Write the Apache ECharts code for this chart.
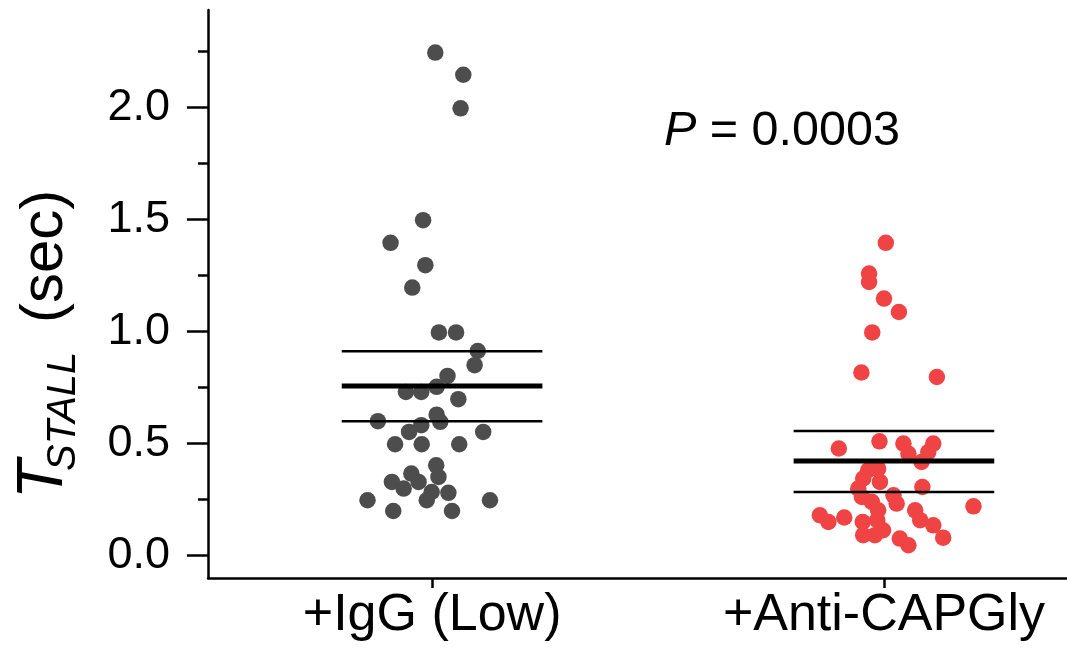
<!DOCTYPE html>
<html><head><meta charset="utf-8">
<script src="https://cdn.jsdelivr.net/npm/echarts@6/dist/echarts.min.js"></script>
<style>html,body{margin:0;padding:0;background:#fff}#c{width:1067px;height:656px}</style>
</head><body><div id="c"></div>
<script>
const categories = ['+IgG (Low)', '+Anti-CAPGly'];
const iggValues = [2.245, 2.146, 1.996, 1.497, 1.396, 1.296, 1.196, 0.996, 0.996, 0.913, 0.850, 0.802, 0.730, 0.730, 0.753, 0.698, 0.600, 0.629, 0.597, 0.582, 0.552, 0.552, 0.497, 0.497, 0.497, 0.403, 0.351, 0.366, 0.329, 0.299, 0.329, 0.284, 0.247, 0.280, 0.247, 0.247, 0.199, 0.199];
const iggJitter = [0.007, 0.069, 0.063, -0.020, -0.092, -0.015, -0.044, 0.015, 0.053, 0.101, 0.094, 0.034, -0.058, -0.024, 0.010, 0.058, -0.120, 0.010, 0.018, -0.024, -0.051, 0.113, -0.082, -0.023, 0.060, 0.009, 0.014, -0.046, -0.089, -0.063, -0.030, -0.001, -0.012, 0.036, -0.143, 0.128, -0.086, 0.044];
const capValues = [1.396, 1.259, 1.221, 1.147, 1.087, 0.996, 0.817, 0.797, 0.478, 0.510, 0.500, 0.500, 0.462, 0.455, 0.418, 0.381, 0.388, 0.344, 0.329, 0.299, 0.306, 0.262, 0.269, 0.232, 0.220, 0.202, 0.158, 0.202, 0.180, 0.150, 0.170, 0.150, 0.158, 0.113, 0.135, 0.091, 0.091, 0.076, 0.046, 0.080, 0.240];
const capJitter = [0.004, -0.033, -0.033, 0.000, 0.033, -0.026, -0.050, 0.117, -0.100, -0.010, 0.043, 0.109, 0.098, 0.054, 0.083, -0.035, -0.013, -0.046, -0.009, -0.057, 0.085, -0.049, 0.021, 0.028, 0.198, 0.069, 0.080, -0.013, -0.142, -0.123, -0.088, -0.047, -0.015, -0.002, 0.109, -0.046, -0.020, 0.035, 0.054, 0.131, -0.027];
const meanValues = [0.757, 0.422];
const upperValues = [0.912, 0.556];
const lowerValues = [0.600, 0.284];
const yMajorTicks = [0, 0.5, 1.0, 1.5, 2.0];
const yMinorTicks = [0.25, 0.75, 1.25, 1.75, 2.25];
const xTicks = [1, 2];
const pValueText = '0.0003';

const FONT = '"Liberation Sans", Arial, sans-serif';
const chart = echarts.init(document.getElementById('c'), null, {renderer: 'canvas'});

function pts(vals, jit, c) { return vals.map((v, i) => [c + jit[i], v]); }
const series = [
  {type: 'scatter', data: pts(iggValues, iggJitter, 1), symbol: 'circle', symbolSize: 16.5,
   itemStyle: {color: '#4d4d4d', opacity: 1}, z: 2, silent: true},
  {type: 'scatter', data: pts(capValues, capJitter, 2), symbol: 'circle', symbolSize: 16.5,
   itemStyle: {color: '#f04444', opacity: 1}, z: 2, silent: true}
];
const L = -0.2, R = 0.244;
[0, 1].forEach(i => {
  const c = i + 1;
  [[upperValues[i], 2.5], [meanValues[i], 5], [lowerValues[i], 2.5]].forEach(([y, w]) => {
    series.push({type: 'line', data: [[c + L, y], [c + R, y]], symbol: 'none', silent: true,
      lineStyle: {color: '#000', width: w}, z: 5, animation: false});
  });
});

const option = {
  animation: false,
  backgroundColor: '#fff',
  grid: {left: 208, right: 0, top: 10, bottom: 78, outerBoundsMode: 'none', containLabel: false},
  xAxis: {
    type: 'value', min: 0.504, max: 2.405,
    axisLine: {show: true, onZero: false, lineStyle: {color: '#000', width: 2.5}},
    axisTick: {show: true, customValues: xTicks, length: 10, lineStyle: {color: '#000', width: 2.5}},
    axisLabel: {show: true, customValues: xTicks, formatter: v => categories[Math.round(v) - 1],
      fontSize: 52, fontFamily: FONT, color: '#000', margin: 12},
    splitLine: {show: false}
  },
  yAxis: [{
    type: 'value', min: -0.1, max: 2.435, position: 'left',
    axisLine: {show: true, onZero: false, lineStyle: {color: '#000', width: 2.5}},
    axisTick: {show: true, customValues: yMajorTicks, length: 21, lineStyle: {color: '#000', width: 2.5}},
    axisLabel: {show: true, customValues: yMajorTicks, formatter: v => v.toFixed(1),
      fontSize: 45, fontFamily: FONT, color: '#000', margin: 38},
    splitLine: {show: false}
  }, {
    type: 'value', min: -0.1, max: 2.435, position: 'left', offset: 0,
    axisLine: {show: false, onZero: false},
    axisTick: {show: true, customValues: yMinorTicks, length: 10, lineStyle: {color: '#000', width: 2.5}},
    axisLabel: {show: false},
    splitLine: {show: false}
  }],
  graphic: [
    {type: 'text', x: 44, y: 499, rotation: Math.PI / 2, silent: true,
     style: {text: 'T', fontSize: 64, fontStyle: 'italic', fontFamily: FONT, fill: '#000', align: 'left', verticalAlign: 'middle'}},
    {type: 'text', x: 64, y: 471, rotation: Math.PI / 2, silent: true,
     style: {text: 'STALL', fontSize: 40, fontStyle: 'italic', fontFamily: FONT, fill: '#000', align: 'left', verticalAlign: 'middle'}},
    {type: 'text', x: 45, y: 323, rotation: Math.PI / 2, silent: true,
     style: {text: '(sec)', fontSize: 60, fontFamily: FONT, fill: '#000', align: 'left', verticalAlign: 'middle'}},
    {type: 'text', x: 664, y: 131.5, silent: true,
     style: {text: '{i|P} = ' + pValueText, fontSize: 48.5, fontFamily: FONT, fill: '#000', align: 'left', verticalAlign: 'middle',
       rich: {i: {fontSize: 48.5, fontStyle: 'italic', fontFamily: FONT, fill: '#000'}}}}
  ],
  series: series
};
chart.setOption(option);
</script></body></html>
